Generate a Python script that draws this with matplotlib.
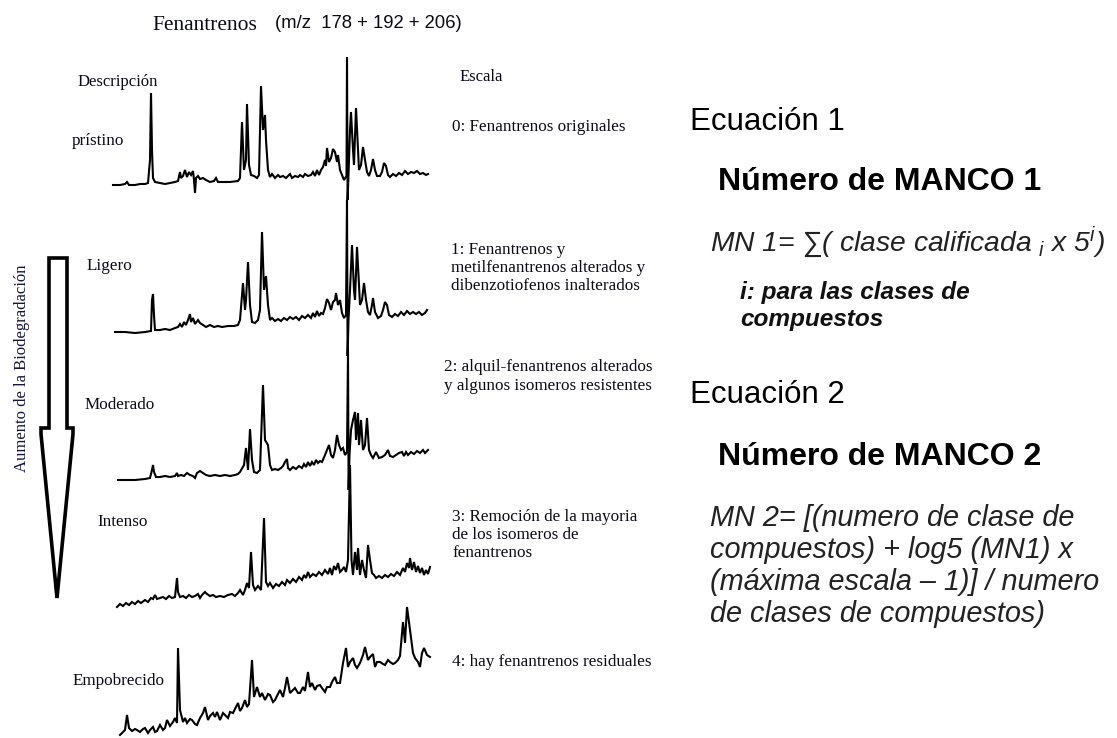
import matplotlib
matplotlib.use("Agg")
import matplotlib.pyplot as plt
from matplotlib.patches import Polygon

# ---------------------------------------------------------------
# Phenanthrene ion chromatograms (m/z 178 + 192 + 206)
# retention = scan index, abundance = relative detector response
# ---------------------------------------------------------------
pristine_scan = [13, 20, 25, 27, 29, 35, 40, 45, 48, 50, 51, 52, 53, 55, 60, 65, 70, 75, 78, 80,
                 81, 83, 85, 87, 89, 91, 93, 94, 95, 96, 98, 100, 103, 106, 110, 114, 116, 118, 122, 130,
                 138, 140, 142, 144, 146, 147, 149, 151, 154, 157, 159, 161, 163, 165, 166, 168, 170, 172, 175, 178,
                 180, 183, 186, 188, 190, 192, 195, 198, 200, 203, 205, 208, 211, 213, 215, 217, 219, 221, 223, 225,
                 226, 227, 229, 231, 233, 235, 237, 238, 240, 242, 244, 246.5, 247, 247.6, 248.5, 250, 251, 253, 254, 256,
                 258, 259, 261, 263, 265, 267, 269, 271, 273, 275, 277, 280, 282, 284, 286, 288, 290, 293, 296, 299,
                 302, 305, 308, 311, 314, 317, 320, 323, 326, 328]
pristine_abund = [15, 15, 16, 18, 15, 15, 16, 16, 17, 40, 107, 50, 22, 18, 17, 16, 17, 18, 19, 28,
                  22, 24, 30, 23, 28, 25, 29, 20, 7, 22, 24, 21, 22, 20, 18, 19, 22, 18, 18, 18,
                  19, 22, 78, 30, 40, 96, 35, 25, 24, 22, 25, 114, 70, 85, 60, 30, 23, 26, 22, 25,
                  23, 24, 22, 24, 26, 22, 24, 23, 25, 23, 26, 24, 25, 28, 24, 30, 25, 30, 33, 40,
                  34, 52, 38, 42, 51, 48, 38, 45, 30, 25, 20, 24, 143, 0, 25, 70, 88, 50, 35, 92,
                  50, 30, 35, 53, 40, 28, 24, 30, 41, 30, 24, 24, 28, 37, 34, 25, 23, 26, 24, 27,
                  25, 29, 26, 28, 27, 29, 26, 27, 25, 26]

light_scan = [15, 25, 35, 45, 51, 52, 53, 54, 55, 60, 65, 70, 75, 78, 80, 82, 84, 86, 88, 90,
              91, 93, 95, 98, 100, 103, 106, 110, 114, 118, 122, 128, 134, 138, 140, 143, 145, 146, 148, 150,
              152, 155, 158, 160, 162, 164, 166, 168, 170, 172, 175, 178, 181, 184, 187, 190, 193, 196, 199, 202,
              205, 208, 211, 213, 215, 217, 219, 221, 223, 225, 227, 229, 231, 233, 235, 236, 238, 240, 242, 244,
              246, 247, 247.6, 248.5, 250, 252, 254, 255, 257, 259, 260, 262, 264, 266, 268, 270, 272, 273, 275, 278,
              281, 283, 285, 287, 289, 292, 295, 298, 301, 304, 307, 310, 313, 316, 319, 322, 325, 327]
light_abund = [28, 28, 27, 28, 29, 60, 66, 45, 30, 30, 31, 30, 32, 33, 36, 33, 38, 35, 40, 46,
               38, 42, 36, 40, 37, 35, 33, 35, 33, 34, 33, 34, 34, 35, 40, 77, 50, 60, 98, 55,
               38, 37, 40, 50, 128, 70, 84, 55, 40, 42, 39, 41, 39, 42, 40, 43, 41, 43, 40, 44,
               42, 45, 42, 47, 43, 49, 44, 47, 46, 52, 61, 57, 50, 58, 60, 67, 55, 60, 47, 42,
               45, 160, 4, 40, 70, 115, 70, 60, 113, 75, 55, 60, 77, 60, 48, 45, 55, 62, 48, 42,
               44, 50, 58, 55, 45, 43, 46, 44, 48, 45, 49, 46, 48, 46, 48, 45, 47, 50]

moderate_scan = [18, 25, 35, 45, 50, 52, 53, 54, 56, 60, 65, 70, 75, 77, 78, 81, 84, 87, 90, 93,
                 95, 97, 100, 103, 106, 110, 115, 120, 125, 130, 135, 138, 140, 144, 146, 148, 150, 152, 154, 157,
                 160, 163, 165, 168, 170, 172, 175, 178, 181, 183, 185, 187, 188, 190, 193, 196, 199, 202, 204, 206,
                 208, 210, 212, 214, 216, 218, 220, 222, 225, 227, 229, 231, 233, 235, 237, 239, 241, 243, 245, 247,
                 248, 248.6, 249.5, 251, 253, 255, 256, 258, 259, 261, 263, 265, 267, 269, 271, 273, 276, 279, 282, 285,
                 288, 290, 293, 296, 299, 302, 304, 306, 308, 311, 314, 317, 320, 323, 325, 328]
moderate_abund = [20, 20, 20, 21, 22, 30, 35, 28, 23, 23, 24, 23, 24, 27, 24, 25, 24, 27, 25, 24,
                  22, 27, 29, 27, 25, 24, 25, 24, 25, 24, 25, 26, 28, 35, 52, 30, 71, 40, 28, 27,
                  30, 115, 60, 55, 35, 30, 31, 30, 32, 34, 38, 41, 32, 30, 33, 31, 34, 32, 36, 33,
                  38, 34, 38, 35, 40, 37, 39, 38, 45, 50, 55, 45, 42, 50, 65, 55, 50, 52, 45, 48,
                  148, 10, 45, 70, 80, 88, 60, 87, 55, 80, 50, 55, 82, 50, 45, 42, 48, 42, 43, 45,
                  50, 44, 43, 45, 47, 48, 44, 48, 45, 48, 46, 49, 47, 50, 47, 50]

severe_scan = [17, 20, 23, 26, 29, 32, 35, 38, 41, 45, 48, 51, 53, 55, 57, 60, 63, 66, 69, 72,
               75, 77, 78, 80, 83, 86, 89, 92, 95, 98, 100, 102, 105, 107, 110, 113, 116, 120, 124, 128,
               132, 135, 138, 140, 143, 145, 147, 149, 151, 153, 155, 158, 161, 164, 166, 168, 170, 173, 176, 179,
               182, 185, 187, 190, 193, 196, 199, 202, 204, 206, 208, 210, 213, 216, 219, 222, 225, 228, 230, 232,
               234, 236, 238, 240, 242, 244, 246, 248, 250, 251.5, 253, 255, 257, 258, 260, 262, 264, 266, 268, 270,
               272, 274, 276, 279, 282, 285, 288, 291, 294, 297, 300, 303, 305, 307, 309, 310, 312, 314, 316, 318,
               320, 322, 324, 326, 328, 330]
severe_abund = [13, 16, 14, 17, 15, 18, 16, 19, 17, 20, 18, 22, 21, 25, 21, 22, 23, 21, 24, 22,
                23, 42, 28, 23, 24, 22, 25, 23, 24, 26, 22, 25, 28, 26, 24, 25, 23, 24, 23, 25,
                26, 24, 27, 30, 25, 30, 37, 32, 68, 35, 30, 34, 30, 102, 38, 34, 37, 32, 36, 34,
                38, 35, 40, 37, 41, 38, 43, 40, 45, 42, 48, 43, 46, 44, 48, 45, 50, 46, 52, 45,
                54, 50, 57, 48, 50, 53, 48, 60, 155, 60, 45, 68, 50, 72, 45, 60, 50, 42, 75, 60,
                47, 45, 42, 44, 42, 45, 43, 46, 44, 48, 45, 52, 48, 57, 52, 62, 50, 58, 48, 54,
                47, 52, 45, 50, 46, 53]

depleted_scan = [20, 23, 25, 27, 29, 32, 35, 37, 40, 43, 45, 48, 50, 53, 55, 57, 60, 63, 65, 67,
                 70, 73, 75, 77, 78, 80, 83, 85, 87, 90, 92, 95, 97, 100, 103, 105, 108, 110, 113, 115,
                 117, 120, 123, 125, 128, 130, 133, 136, 138, 140, 142, 145, 147, 149, 152, 154, 157, 160, 162, 165,
                 168, 170, 173, 175, 178, 180, 183, 185, 187, 190, 193, 195, 198, 200, 203, 205, 208, 210, 212, 215,
                 217, 220, 222, 225, 227, 230, 232, 235, 237, 240, 243, 246, 248, 250, 253, 255, 257, 260, 263, 265,
                 268, 270, 273, 275, 277, 280, 283, 285, 288, 290, 293, 295, 298, 300, 303, 305, 307, 310, 313, 315,
                 318, 320, 322, 324, 327, 330]
depleted_abund = [5, 8, 10, 25, 12, 9, 11, 10, 8, 11, 12, 7, 10, 13, 8, 9, 15, 10, 12, 20,
                  14, 18, 22, 17, 92, 30, 18, 22, 17, 21, 20, 16, 15, 22, 27, 33, 20, 24, 27, 23,
                  28, 20, 27, 25, 22, 28, 27, 33, 37, 29, 32, 40, 33, 36, 80, 43, 53, 43, 47, 40,
                  46, 45, 38, 40, 46, 50, 43, 52, 63, 47, 50, 52, 47, 47, 53, 49, 68, 53, 57, 50,
                  54, 55, 52, 48, 53, 53, 58, 63, 57, 57, 77, 92, 73, 78, 82, 75, 72, 77, 85, 93,
                  80, 83, 86, 73, 78, 78, 76, 75, 80, 78, 76, 77, 80, 84, 118, 97, 133, 110, 87, 82,
                  78, 73, 87, 92, 85, 83]

grades = ["prístino", "Ligero", "Moderado", "Intenso", "Empobrecido"]
scale_notes = [
    "0: Fenantrenos originales",
    "1: Fenantrenos y\nmetilfenantrenos alterados y\ndibenzotiofenos inalterados",
    "2: alquil-fenantrenos alterados\ny algunos isomeros resistentes",
    "3: Remoción de la mayoria\nde los isomeros de\nfenantrenos",
    "4: hay fenantrenos residuales",
]
traces = [
    (pristine_scan, pristine_abund),
    (light_scan, light_abund),
    (moderate_scan, moderate_abund),
    (severe_scan, severe_abund),
    (depleted_scan, depleted_abund),
]

# ---------------------------------------------------------------
W, H = 1117, 738
fig = plt.figure(figsize=(W / 100, H / 100), dpi=100)
fig.patch.set_facecolor("white")

SERIF = ["Liberation Serif", "DejaVu Serif"]
SANS = ["Liberation Sans", "DejaVu Sans"]
plt.rcParams["mathtext.fontset"] = "custom"
plt.rcParams["mathtext.it"] = "Liberation Sans:italic"
plt.rcParams["mathtext.rm"] = "Liberation Sans:italic"
INK = "#0a0a16"

# panel bands (top px, bottom px, abundance zero line px) and limits
bands = [(50, 210, 200), (195, 370, 360), (340, 510, 500), (455, 630, 620), (600, 738, 740)]
x0_px, x1_px = 100, 440
for (scan, ab), (top, bot, zero) in zip(traces, bands):
    ax = fig.add_axes([x0_px / W, (H - bot) / H, (x1_px - x0_px) / W, (bot - top) / H])
    ax.set_xlim(0, 340)
    ax.set_ylim(zero - bot, zero - top)
    ax.plot(scan, ab, color="black", lw=1.5, solid_joinstyle="miter", clip_on=False)
    ax.set_axis_off()
    ax.patch.set_alpha(0)

# overlay in figure pixel units for labels and the arrow
ov = fig.add_axes([0, 0, 1, 1])
ov.set_xlim(0, W)
ov.set_ylim(H, 0)
ov.set_axis_off()
ov.patch.set_alpha(0)

ov.text(152, 26, "Fenantrenos", family=SERIF, fontsize=15.5, color=INK, va="center", ha="left")
ov.text(275, 24, "(m/z  178 + 192 + 206)", family=SANS, fontsize=13.3, color=INK, va="center", ha="left")
ov.text(78, 82, "Descripción", family=SERIF, fontsize=12, color=INK, va="center")
ov.text(460, 77, "Escala", family=SERIF, fontsize=12, color=INK, va="center")

grade_pos = [(72, 141), (87, 266), (85, 405), (97, 522), (73, 681)]
for name, (gx, gy) in zip(grades, grade_pos):
    ov.text(gx, gy, name, family=SERIF, fontsize=12.3, color=INK, va="center")

note_pos = [(452, 127), (451, 268), (444, 376.5), (452, 535), (452, 662)]
for note, (nx, ny) in zip(scale_notes, note_pos):
    ov.text(nx, ny, note, family=SERIF, fontsize=12.3, color=INK, va="center", linespacing=1.2)

ov.text(22, 368, "Aumento de la Biodegradación", family=SERIF, fontsize=12, color="#14143c",
        rotation=90, va="center", ha="center")

# hollow downward arrow
arrow = [(49, 258), (67, 258), (67, 428), (73, 428), (73, 434), (57, 598),
         (41, 434), (41, 428), (49, 428)]
ov.add_patch(Polygon(arrow, closed=True, fill=False, ec="black", lw=2.6, joinstyle="miter"))

# equations
ov.text(690, 122, "Ecuación 1", family=SANS, fontsize=22.5, color="black", va="center")
ov.text(718, 182, "Número de MANCO 1", family=SANS, fontsize=23, weight="bold", color="black", va="center")
ov.text(710, 242, "MN 1= ∑( clase calificada $_{i}$ x 5$^{i}$)", family=SANS, fontsize=20.3,
        style="italic", color="#222222", va="center")
ov.text(740, 306, "i: para las clases de\ncompuestos", family=SANS, fontsize=17.6, weight="bold",
        style="italic", color="#111111", va="center", linespacing=1.25)
ov.text(690, 395, "Ecuación 2", family=SANS, fontsize=22.5, color="black", va="center")
ov.text(718, 457, "Número de MANCO 2", family=SANS, fontsize=23, weight="bold", color="black", va="center")
ov.text(710, 566, "MN 2= [(numero de clase de\ncompuestos) + log5 (MN1) x\n(máxima escala – 1)] / numero\nde clases de compuestos)",
        family=SANS, fontsize=20.8, style="italic", color="#222222", va="center", linespacing=1.19)

fig.savefig("out.png", dpi=100, facecolor="white")
